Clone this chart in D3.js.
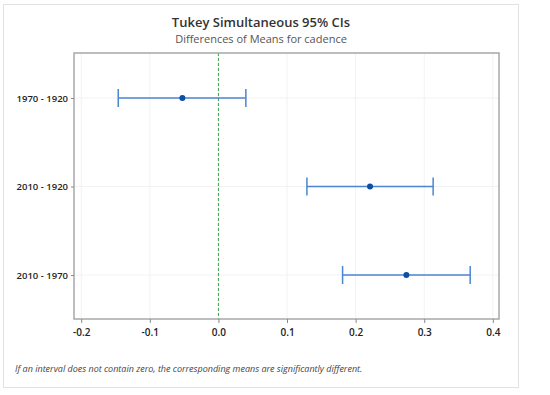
<!DOCTYPE html>
<html>
<head>
<meta charset="utf-8">
<script src="https://cdn.jsdelivr.net/npm/d3@7"></script>
<style>
  body { margin: 0; background: #fff; }
  svg { font-family: "Open Sans", "Noto Sans", sans-serif; }
</style>
</head>
<body>
<div id="chart"></div>
<script>
// comparisons (top to bottom)
const comparisons = ["1970 - 1920", "2010 - 1920", "2010 - 1970"];
const lower = [-0.146, 0.129, 0.181];
const mean = [-0.0525, 0.221, 0.274];
const upper = [0.040, 0.313, 0.367];
const xTicks = [-0.2, -0.1, 0.0, 0.1, 0.2, 0.3, 0.4];

const width = 550, height = 395;
const margin = { top: 53, right: 51, bottom: 76, left: 74 };
const fontFamily = '"Open Sans", "Noto Sans", sans-serif';

const svg = d3.select("#chart").append("svg")
  .attr("width", width)
  .attr("height", height);

// outer light box
svg.append("rect")
  .attr("x", 3.5).attr("y", 4.5)
  .attr("width", 515).attr("height", 383)
  .attr("fill", "#fff")
  .attr("stroke", "#e2e2e2");

const x = d3.scaleLinear().domain([-0.2105, 0.409]).range([margin.left, width - margin.right]);
const y = d3.scalePoint().domain(comparisons).range([98, 275]);

const plotBottom = height - margin.bottom;

// grid
svg.append("g")
  .selectAll("line")
  .data(xTicks)
  .join("line")
  .attr("x1", d => x(d)).attr("x2", d => x(d))
  .attr("y1", margin.top).attr("y2", plotBottom)
  .attr("stroke", "#f2f2f2");

svg.append("g")
  .selectAll("line")
  .data(comparisons)
  .join("line")
  .attr("x1", margin.left).attr("x2", width - margin.right)
  .attr("y1", d => y(d)).attr("y2", d => y(d))
  .attr("stroke", "#f2f2f2");

// zero line
svg.append("line")
  .attr("x1", x(0)).attr("x2", x(0))
  .attr("y1", margin.top).attr("y2", plotBottom)
  .attr("stroke", "#3aa24a")
  .attr("stroke-width", 1)
  .attr("stroke-dasharray", "3,2");

// frame
svg.append("rect")
  .attr("x", margin.left).attr("y", margin.top)
  .attr("width", width - margin.right - margin.left)
  .attr("height", plotBottom - margin.top)
  .attr("fill", "none")
  .attr("stroke", "#a8a8a8")
  .attr("stroke-width", 1.5);

// axes
const xAxis = svg.append("g")
  .attr("transform", `translate(0,${plotBottom})`)
  .call(d3.axisBottom(x).tickValues(xTicks).tickFormat(d => d.toFixed(1)).tickSize(4).tickSizeOuter(0))
  .attr("font-family", fontFamily);
xAxis.select(".domain").remove();
xAxis.selectAll("line").attr("stroke", "#888");
xAxis.selectAll("text")
  .attr("dy", "0.95em")
  .attr("font-size", 10)
  .attr("font-weight", 600)
  .attr("fill", "#222");

const yAxis = svg.append("g")
  .attr("transform", `translate(${margin.left},0)`)
  .call(d3.axisLeft(y).tickSize(3).tickPadding(3).tickSizeOuter(0))
  .attr("font-family", fontFamily);
yAxis.select(".domain").remove();
yAxis.selectAll("line").attr("stroke", "#888");
yAxis.selectAll("text")
  .attr("font-size", 9.5)
  .attr("font-weight", 600)
  .attr("fill", "#222");

// intervals
const rows = comparisons.map((c, i) => ({ c, lo: lower[i], m: mean[i], hi: upper[i] }));
const g = svg.append("g");
const color = "#4a86d0";

g.selectAll(".ci")
  .data(rows)
  .join("line")
  .attr("x1", d => x(d.lo)).attr("x2", d => x(d.hi))
  .attr("y1", d => y(d.c)).attr("y2", d => y(d.c))
  .attr("stroke", color).attr("stroke-width", 1.5);

g.selectAll(".capL")
  .data(rows)
  .join("line")
  .attr("x1", d => x(d.lo)).attr("x2", d => x(d.lo))
  .attr("y1", d => y(d.c) - 9).attr("y2", d => y(d.c) + 9)
  .attr("stroke", color).attr("stroke-width", 1.5);

g.selectAll(".capR")
  .data(rows)
  .join("line")
  .attr("x1", d => x(d.hi)).attr("x2", d => x(d.hi))
  .attr("y1", d => y(d.c) - 9).attr("y2", d => y(d.c) + 9)
  .attr("stroke", color).attr("stroke-width", 1.5);

g.selectAll("circle")
  .data(rows)
  .join("circle")
  .attr("cx", d => x(d.m))
  .attr("cy", d => y(d.c))
  .attr("r", 3)
  .attr("fill", "#0d4ea6");

// titles
svg.append("text")
  .attr("x", 261).attr("y", 27)
  .attr("text-anchor", "middle")
  .attr("font-size", 13)
  .attr("font-weight", 600)
  .attr("fill", "#333")
  .text("Tukey Simultaneous 95% CIs");

svg.append("text")
  .attr("x", 261).attr("y", 43)
  .attr("text-anchor", "middle")
  .attr("font-size", 11)
  .attr("fill", "#555")
  .text("Differences of Means for cadence");

svg.append("text")
  .attr("x", 15).attr("y", 372)
  .attr("font-size", 9)
  .attr("font-style", "italic")
  .attr("fill", "#444")
  .text("If an interval does not contain zero, the corresponding means are significantly different.");
</script>
</body>
</html>
